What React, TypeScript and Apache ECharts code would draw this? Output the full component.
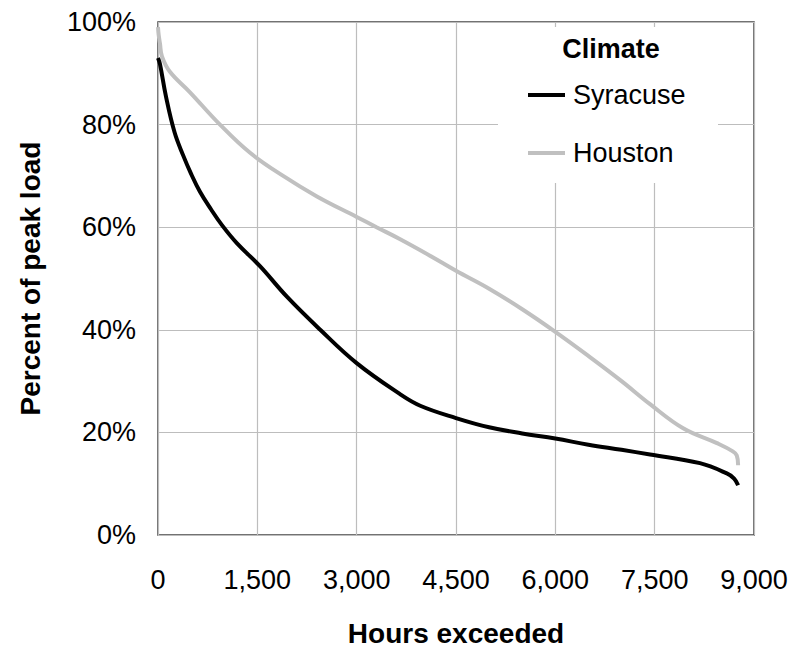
import React, { useEffect, useRef } from "react";
import * as echarts from "echarts";

const xTicks = [0, 1500, 3000, 4500, 6000, 7500, 9000];
const yTicks = [0, 20, 40, 60, 80, 100];

const syracuseHours = [0, 30, 120, 250, 380, 500, 634, 800, 966, 1190, 1540, 1950, 2450, 3000, 3650, 3960, 4500, 5000, 5500, 6000, 6500, 7000, 7430, 8184, 8590, 8700, 8760];
const syracuseLoad = [93, 91.8, 85.5, 78.5, 74, 70.4, 66.9, 63.5, 60.4, 56.9, 52.4, 46.4, 40, 33.5, 27.5, 25.2, 22.8, 21, 19.8, 18.8, 17.6, 16.6, 15.7, 14, 12, 11, 9.7];

const houstonHours = [0, 10, 30, 60, 180, 483, 936, 1390, 1890, 2400, 3000, 3300, 3650, 4100, 4500, 5000, 5500, 6000, 6500, 7000, 7430, 7930, 8440, 8680, 8740, 8760];
const houstonLoad = [99, 97.5, 95.8, 93.3, 90.3, 86.3, 80, 74.5, 70, 66, 62, 60, 57.7, 54.5, 51.5, 48, 44, 39.6, 34.9, 30, 25.5, 20.8, 17.9, 16.3, 15.5, 13.6];

const seriesNames = ["Syracuse", "Houston"];
const legendTitle = "Climate";
const xTitle = "Hours exceeded";
const yTitle = "Percent of peak load";

const FONT = "'Liberation Sans', Arial, sans-serif";

export default function App() {
  const ref = useRef<HTMLDivElement>(null);
  useEffect(() => {
    if (!ref.current) return;
    const chart = echarts.init(ref.current, null, { renderer: "svg" });
    const zip = (xs: number[], ys: number[]) => xs.map((x, i) => [x, ys[i]]);
    chart.setOption({
      animation: false,
      backgroundColor: "#ffffff",
      textStyle: { fontFamily: FONT },
      grid: {
        left: 158,
        top: 22,
        right: 56,
        bottom: 115,
        show: true,
        borderColor: "#444",
        borderWidth: 1.5,
        backgroundColor: "transparent",
      },
      xAxis: {
        type: "value",
        min: xTicks[0],
        max: xTicks[xTicks.length - 1],
        interval: 1500,
        name: xTitle,
        nameLocation: "middle",
        nameGap: 84,
        nameTextStyle: { fontSize: 28, fontWeight: "bold", color: "#000", fontFamily: FONT },
        axisLine: { show: false },
        axisTick: { show: false },
        axisLabel: {
          fontSize: 27,
          color: "#000",
          margin: 31,
          fontFamily: FONT,
          formatter: (v: number) => v.toLocaleString("en-US"),
        },
        splitLine: { show: true, lineStyle: { color: "#bdbdbd", width: 1.2 } },
      },
      yAxis: {
        type: "value",
        min: yTicks[0],
        max: yTicks[yTicks.length - 1],
        interval: 20,
        name: yTitle,
        nameLocation: "middle",
        nameGap: 114,
        nameTextStyle: { fontSize: 28, fontWeight: "bold", color: "#000", fontFamily: FONT },
        axisLine: { show: false },
        axisTick: { show: false },
        axisLabel: {
          fontSize: 27,
          color: "#000",
          margin: 22,
          fontFamily: FONT,
          formatter: "{value}%",
        },
        splitLine: { show: true, lineStyle: { color: "#bdbdbd", width: 1.2 } },
      },
      legend: {
        orient: "vertical",
        left: 528,
        top: 80,
        padding: 0,
        itemGap: 28,
        itemWidth: 37,
        itemHeight: 4,
        icon: "rect",
        z: 6,
        textStyle: { fontSize: 27, color: "#000", fontFamily: FONT, lineHeight: 30, padding: [0, 0, 0, 3] },
        data: seriesNames,
      },
      graphic: [
        {
          type: "rect",
          z: 3,
          shape: { x: 498, y: 27, width: 220, height: 156 },
          style: { fill: "#ffffff" },
        },
        {
          type: "text",
          z: 5,
          x: 611,
          y: 49,
          style: {
            text: legendTitle,
            fontSize: 27,
            fontWeight: "bold",
            fill: "#000",
            fontFamily: FONT,
            align: "center",
            verticalAlign: "middle",
          },
        },
      ],
      series: [
        {
          name: seriesNames[0],
          type: "line",
          data: zip(syracuseHours, syracuseLoad),
          showSymbol: false,
          smooth: 0.4,
          lineStyle: { color: "#000000", width: 4 },
          itemStyle: { color: "#000000" },
          z: 4,
        },
        {
          name: seriesNames[1],
          type: "line",
          data: zip(houstonHours, houstonLoad),
          showSymbol: false,
          smooth: 0.4,
          lineStyle: { color: "#c0c0c0", width: 4 },
          itemStyle: { color: "#c0c0c0" },
          z: 3,
        },
      ],
    });
    return () => chart.dispose();
  }, []);
  return (
    <div
      ref={ref}
      style={{ position: "fixed", left: 0, top: 0, width: 810, height: 652 }}
    />
  );
}
